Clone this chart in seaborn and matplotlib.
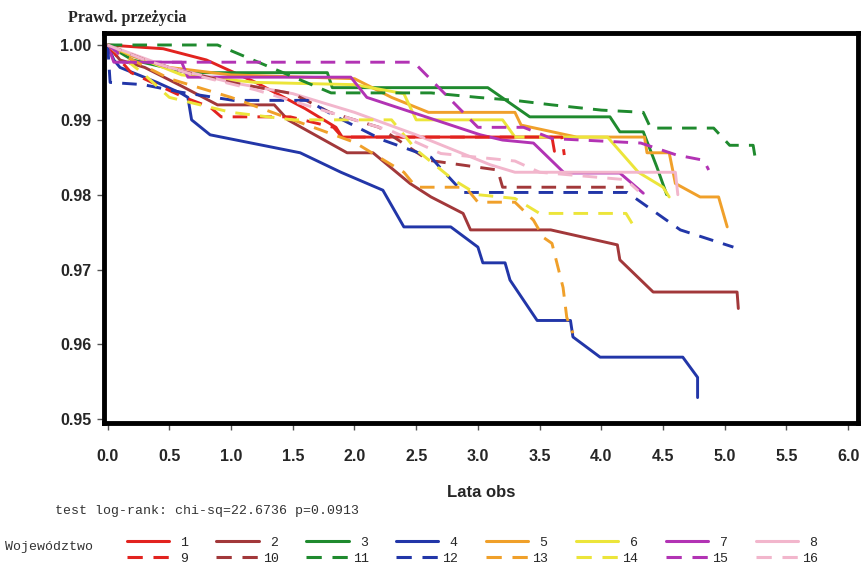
import matplotlib
matplotlib.use("Agg")
import matplotlib.pyplot as plt
import pandas as pd
import seaborn as sns
from matplotlib.lines import Line2D

# Kaplan-Meier curves, one per voivodeship (1-16)
# repeated times mark the vertical drops of the step curves
t1 = [0, 0.45, 0.8, 1.2, 1.6, 1.85, 1.9, 3.6, 3.62]
s1 = [1.0, 0.9995, 0.998, 0.995, 0.9915, 0.989, 0.9877, 0.9877, 0.9858]
t2 = [0, 0.1, 0.3, 0.6, 0.89, 1.35, 1.46, 1.94, 2.15, 2.45, 2.62, 2.88, 2.94, 3.59, 4.13, 4.15, 4.42, 5.1, 5.11]
s2 = [1.0, 0.998, 0.997, 0.9945, 0.992, 0.992, 0.990, 0.9856, 0.9856, 0.9815, 0.9797, 0.9775, 0.9753, 0.9753,
      0.9733, 0.9713, 0.967, 0.967, 0.9648]
t3 = [0, 0.2, 0.65, 1.78, 1.82, 3.08, 3.42, 4.07, 4.15, 4.34, 4.45, 4.53]
s3 = [1.0, 0.998, 0.9963, 0.9963, 0.9943, 0.9943, 0.9904, 0.9904, 0.9884, 0.9884, 0.9837, 0.980]
t4 = [0, 0.05, 0.1, 0.4, 0.6, 0.65, 0.68, 0.83, 1.56, 1.89, 2.23, 2.40, 2.78, 3.0, 3.04, 3.22, 3.26, 3.48,
      3.75, 3.77, 3.99, 4.66, 4.78, 4.78]
s4 = [1.0, 0.998, 0.997, 0.995, 0.9935, 0.993, 0.990, 0.988, 0.9856, 0.983, 0.9806, 0.9757, 0.9757, 0.973,
      0.9709, 0.9709, 0.9686, 0.9632, 0.9632, 0.961, 0.9583, 0.9583, 0.9556, 0.9529]
t5 = [0, 0.2, 0.5, 1.0, 2.0, 2.3, 2.6, 3.3, 3.35, 3.8, 4.35, 4.37, 4.55, 4.6, 4.8, 4.95, 5.02]
s5 = [1.0, 0.9985, 0.997, 0.996, 0.9955, 0.993, 0.991, 0.991, 0.9893, 0.9877, 0.9877, 0.9856, 0.9856,
      0.9815, 0.9797, 0.9797, 0.9757]
t6 = [0, 0.3, 0.6, 1.2, 2.0, 2.4, 2.5, 3.2, 3.3, 4.05, 4.3, 4.5, 4.55]
s6 = [1.0, 0.998, 0.996, 0.995, 0.9947, 0.9935, 0.990, 0.990, 0.9877, 0.9877, 0.983, 0.981, 0.9797]
t7 = [0, 0.05, 0.6, 0.65, 1.97, 2.1, 3.02, 3.2, 3.45, 3.7, 4.15, 4.34]
s7 = [1.0, 0.9977, 0.9977, 0.9957, 0.9957, 0.993, 0.988, 0.9873, 0.9869, 0.9829, 0.9829, 0.9802]
t8 = [0, 0.5, 1.0, 1.5, 2.0, 2.5, 2.8, 3.1, 3.3, 4.6, 4.62]
s8 = [1.0, 0.997, 0.995, 0.9935, 0.991, 0.988, 0.986, 0.984, 0.983, 0.983, 0.980]
t9 = [0, 0.1, 0.19, 0.62, 0.83, 0.92, 1.48, 1.83, 1.9, 3.68, 3.7]
s9 = [1.0, 0.998, 0.9963, 0.993, 0.9917, 0.9904, 0.9904, 0.989, 0.9877, 0.9877, 0.9853]
t10 = [0, 0.3, 0.6, 1.0, 1.5, 1.8, 2.2, 2.6, 3.16, 3.2, 4.18]
s10 = [1.0, 0.998, 0.9965, 0.995, 0.9935, 0.991, 0.989, 0.9846, 0.9833, 0.981, 0.981]
t11 = [0, 0.89, 1.81, 2.62, 3.0, 3.3, 3.6, 4.0, 4.34, 4.40, 4.91, 5.04, 5.23, 5.25]
s11 = [1.0, 1.0, 0.9936, 0.9936, 0.993, 0.9926, 0.992, 0.9913, 0.991, 0.9889, 0.9889, 0.9866, 0.9866, 0.9846]
t12 = [0, 0.02, 0.29, 0.59, 1.02, 1.62, 1.83, 2.23, 2.62, 2.7, 2.88, 4.21, 4.64, 5.07]
s12 = [1.0, 0.995, 0.9947, 0.9937, 0.9926, 0.9926, 0.9906, 0.9873, 0.985, 0.9835, 0.9803, 0.9803, 0.9753, 0.973]
t13 = [0, 0.2, 0.5, 1.0, 1.5, 2.0, 2.4, 2.5, 2.9, 3.0, 3.3, 3.45, 3.53, 3.6, 3.69, 3.72, 3.77]
s13 = [1.0, 0.998, 0.9955, 0.993, 0.990, 0.987, 0.983, 0.981, 0.981, 0.979, 0.979, 0.9766, 0.9743, 0.9735,
       0.9676, 0.9636, 0.9615]
t14 = [0, 0.3, 0.5, 1.0, 1.5, 2.3, 2.5, 2.8, 3.0, 3.3, 3.5, 4.2, 4.27]
s14 = [1.0, 0.996, 0.993, 0.991, 0.990, 0.990, 0.986, 0.982, 0.980, 0.9795, 0.9775, 0.9775, 0.9756]
t15 = [0, 0.08, 0.1, 2.48, 3.0, 3.37, 3.6, 4.32, 4.61, 4.83, 4.87]
s15 = [1.0, 0.999, 0.9977, 0.9977, 0.989, 0.989, 0.9875, 0.9869, 0.9853, 0.9846, 0.9833]
t16 = [0, 0.3, 0.7, 1.2, 1.8, 2.3, 2.7, 3.3, 3.5, 4.2, 4.3]
s16 = [1.0, 0.998, 0.996, 0.994, 0.991, 0.9885, 0.9855, 0.9845, 0.983, 0.982, 0.9805]

times = [t1, t2, t3, t4, t5, t6, t7, t8, t9, t10, t11, t12, t13, t14, t15, t16]
surv = [s1, s2, s3, s4, s5, s6, s7, s8, s9, s10, s11, s12, s13, s14, s15, s16]
group_labels = [str(k) for k in range(1, 17)]

base_colors = ["#e2231f", "#a2383a", "#1f8a2e", "#2236a8", "#f0a02a", "#ece53a", "#b233b4", "#f2b6cc"]
colors = base_colors + base_colors  # 9-16 reuse the colours, dashed

x_ticks = [0.0, 0.5, 1.0, 1.5, 2.0, 2.5, 3.0, 3.5, 4.0, 4.5, 5.0, 5.5, 6.0]
y_ticks = [0.95, 0.96, 0.97, 0.98, 0.99, 1.00]

DASH = (0, (5, 3.5))

sns.set_style("ticks")
plt.rcParams["font.family"] = ["Liberation Sans", "DejaVu Sans"]

fig = plt.figure(figsize=(8.62, 5.74), dpi=100)
ax = fig.add_axes([0.1206, 0.263, 0.8748, 0.6795])

for i, (t, s) in enumerate(zip(times, surv)):
    df = pd.DataFrame({"t": t, "s": s})
    ls = "-" if i < 8 else DASH
    sns.lineplot(data=df, x="t", y="s", ax=ax, color=colors[i], linewidth=2.1,
                 linestyle=ls, sort=False, estimator=None)

ax.set_xlim(-0.03, 6.08)
ax.set_ylim(0.9495, 1.0016)
ax.set_xticks(x_ticks)
ax.set_xticklabels([f"{v:.1f}" for v in x_ticks], fontweight="bold")
ax.set_yticks(y_ticks)
ax.set_yticklabels([f"{v:.2f}" for v in y_ticks], fontweight="bold")
ax.tick_params(direction="out", length=5, width=1, color="#555555", labelsize=11.5)
ax.tick_params(axis="x", pad=14)
ax.tick_params(axis="y", pad=4)
for sp in ax.spines.values():
    sp.set_visible(True)
    sp.set_linewidth(3.5)
    sp.set_color("black")

ax.set_xlabel("Lata obs", fontsize=12, fontweight="bold", labelpad=15)
ax.set_ylabel("")
fig.text(68 / 862, 1 - 18 / 574, "Prawd. przeżycia", family="Liberation Serif",
         fontsize=11.5, fontweight="bold", va="center", ha="left")

fig.text(55 / 862, 1 - 511 / 574, "test log-rank: chi-sq=22.6736 p=0.0913",
         family="Liberation Mono", fontsize=9.5, va="center", ha="left", color="#333333")
fig.text(5 / 862, 1 - 547 / 574, "Województwo", family="Liberation Mono",
         fontsize=9.5, va="center", ha="left", color="#333333")

# legend: row 1 = solid 1-8, row 2 = dashed 9-16
handles, labels = [], []
for k in range(8):
    for j in (k, k + 8):
        handles.append(Line2D([], [], color=colors[j], lw=2.2, linestyle="-" if j < 8 else DASH))
        labels.append(f"{group_labels[j]:>2}")
fig.legend(handles, labels, loc="upper left", bbox_to_anchor=(120 / 862, 1 - 530 / 574),
           ncol=8, frameon=False, borderpad=0, handlelength=3.2, handletextpad=0.3,
           columnspacing=2.1, labelspacing=0.3,
           prop={"family": "Liberation Mono", "size": 9.5})

fig.savefig("out.png", dpi=100)
